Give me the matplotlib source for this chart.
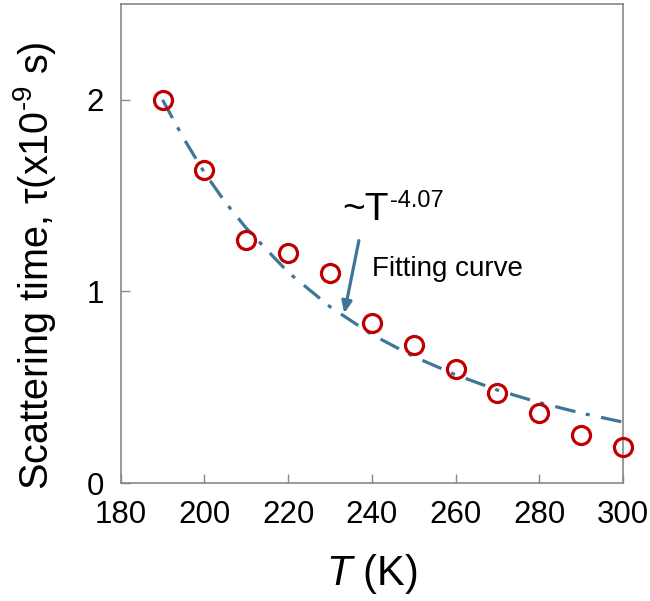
import numpy as np
import matplotlib.pyplot as plt

plt.rcParams['font.family'] = ['Liberation Sans', 'DejaVu Sans']
plt.rcParams['mathtext.fontset'] = 'custom'
plt.rcParams['mathtext.rm'] = 'Liberation Sans'
plt.rcParams['mathtext.it'] = 'Liberation Sans:italic'

# measured scattering time (x1e-9 s)
temps = [190, 200, 210, 220, 230, 240, 250, 260, 270, 280, 290, 300]
tau = [2.00, 1.635, 1.266, 1.203, 1.094, 0.833, 0.719, 0.594, 0.469, 0.365, 0.25, 0.19]

# fitting curve
fit_t = [190, 195, 200, 205, 210, 220, 230, 240, 250, 260, 270, 280, 290, 300]
fit_tau = [2.00, 1.80, 1.62, 1.465, 1.33, 1.10, 0.92, 0.775, 0.66, 0.565, 0.485, 0.42, 0.365, 0.318]

BLUE = '#3f7599'
RED = '#c00000'
GRAY = '#888888'

fig = plt.figure(figsize=(6.5, 6.01), dpi=100)
ax = fig.add_axes([0.1857, 0.1963, 0.7728, 0.797])

ax.plot(fit_t, fit_tau, color=BLUE, lw=2.3, dashes=(6.5, 3.3, 1.3, 3.6), zorder=2)
ax.plot(temps, tau, 'o', ms=13, mfc='none', mec=RED, mew=2.3, zorder=3,
        clip_on=False)

ax.annotate('', xy=(233.4, 0.885), xytext=(236.9, 1.265),
            arrowprops=dict(arrowstyle='-|>,head_length=0.7,head_width=0.3',
                            color=BLUE, lw=2.3, shrinkA=0, shrinkB=0))
ax.text(233.0, 1.375, '~T', fontsize=28, ha='left', va='baseline')
ax.text(244.4, 1.443, '-4.07', fontsize=17, ha='left', va='baseline')
ax.text(240.1, 1.078, 'Fitting curve', fontsize=20, ha='left', va='baseline')

ax.set_xlim(180, 300)
ax.set_ylim(0, 2.5)
ax.set_xticks([180, 200, 220, 240, 260, 280, 300])
ax.set_yticks([0, 1, 2])
ax.tick_params(direction='in', length=6.5, width=1, color=GRAY, labelsize=22.5,
               pad=12)
for s in ax.spines.values():
    s.set_color(GRAY)
    s.set_linewidth(1.2)

ax.set_xlabel(r'$T$ (K)', fontsize=30, labelpad=16)
ax.set_ylabel(r'Scattering time, τ(x10$^{\text{-9}}$ s)', fontsize=28.5,
              labelpad=22)
ax.yaxis.set_label_coords(-0.125, 0.454)

fig.savefig('out.png', dpi=100)
